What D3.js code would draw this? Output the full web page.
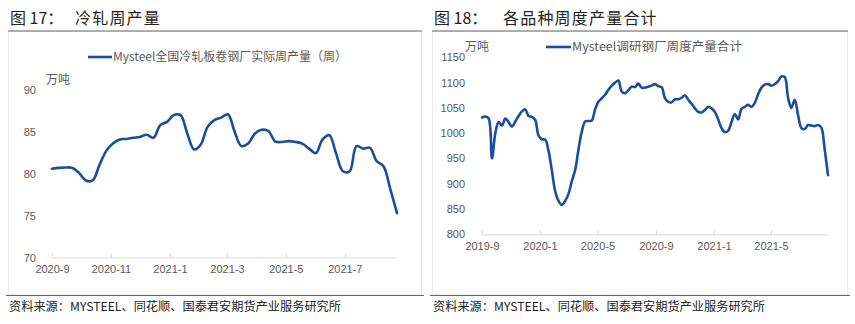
<!DOCTYPE html>
<html><head><meta charset="utf-8">
<script src="https://cdn.jsdelivr.net/npm/d3@7"></script>
<style>
html,body{margin:0;padding:0;background:#fff;}
svg{display:block;}
text{font-family:"Liberation Sans","Noto Sans CJK SC",sans-serif;}
.cjk{font-family:"Noto Sans CJK SC","Liberation Sans",sans-serif;}
</style></head>
<body>
<svg id="c" width="855" height="324"></svg>
<script>
// ---------- DATA ----------
const leftTitleNo = "图 17：";
const leftTitle = "冷轧周产量";
const leftSeriesName = "Mysteel全国冷轧板卷钢厂实际周产量（周）";
const leftUnit = "万吨";
const leftStart = "2020-09-03";
const leftValues = [80.6,80.7,80.75,80.7,80.1,79.2,79.2,81.0,82.7,83.6,84.1,84.15,84.3,84.4,84.65,84.3,
  85.8,86.2,87.0,87.0,84.8,82.9,83.5,85.6,86.4,86.7,87.1,85.0,83.3,83.6,84.8,85.25,85.1,83.85,83.8,83.9,
  83.8,83.6,83.0,82.45,84.1,84.6,82.4,80.3,80.3,83.3,83.0,83.1,81.5,80.9,78.2,75.3];
const leftYTicks = [70,75,80,85,90];
const leftXTickLabels = ["2020-9","2020-11","2021-1","2021-3","2021-5","2021-7"];

const rightTitleNo = "图 18：";
const rightTitle = "各品种周度产量合计";
const rightSeriesName = "Mysteel调研钢厂周度产量合计";
const rightUnit = "万吨";
const rightStart = "2019-09-05";
const rightValues = [1031,1033,1029,950,1000,1022,1015,1029,1022,1013,1023,1034,1043,1047,1034,1032,1026,995,988,987,
  965,926,885,866,858,866,880,905,927,968,1003,1023,1024,1025,1047,1062,1069,1076,1086,1094,
  1100,1104,1082,1079,1085,1092,1091,1098,1090,1090,1092,1094,1097,1093,1091,1069,1062,1061,1067,1067,
  1070,1075,1066,1058,1049,1042,1041,1046,1052,1049,1042,1027,1010,1002,1005,1022,1038,1027,1048,1052,
  1056,1052,1060,1077,1090,1096,1097,1094,1097,1103,1112,1111,1070,1050,1066,1036,1010,1008,1016,1015,
  1014,1016,1011,968,917];
const rightYTicks = [800,850,900,950,1000,1050,1100,1150];
const rightXTickLabels = ["2019-9","2020-1","2020-5","2020-9","2021-1","2021-5"];

const sourceText = "资料来源：MYSTEEL、同花顺、国泰君安期货产业服务研究所";

// ---------- DRAW ----------
const svg = d3.select("#c");
const parse = d3.timeParse("%Y-%m-%d");
const lineColor = "#1D4C9C";
const textColor = "#595959";

function tickDate(label, day){
  const [y,m] = label.split("-").map(Number);
  return new Date(y, m-1, day);
}

function panel(o){
  const start = parse(o.start);
  const dates = o.values.map((v,i)=>d3.timeDay.offset(start, 7*i));
  const data = o.values.map((v,i)=>({d:dates[i], v}));
  const x = d3.scaleTime().domain([dates[0], dates[dates.length-1]]).range(o.xr);
  const y = d3.scaleLinear().domain([o.yTicks[0], o.yTicks[o.yTicks.length-1]]).range(o.yr);

  // frame
  svg.append("rect").attr("x",o.fx0+0.5).attr("y",31.5).attr("width",o.fx1-o.fx0).attr("height",263)
    .attr("fill","none").attr("stroke","#ececec");
  // title
  const t = svg.append("text").attr("x",o.fx0+2).attr("y",24).attr("fill","#222").style("font-size","16px");
  t.append("tspan").attr("class","cjk").text(o.titleNo);
  t.append("tspan").attr("class","cjk").attr("x",o.titleX).style("letter-spacing","1.2px").text(o.title);
  svg.append("line").attr("x1",o.fx0).attr("x2",o.fx1+1).attr("y1",31).attr("y2",31)
    .attr("stroke","#666").attr("stroke-width",1.2);
  // footer
  svg.append("line").attr("x1",o.fx0-2).attr("x2",o.fx1+3).attr("y1",295.5).attr("y2",295.5)
    .attr("stroke","#666").attr("stroke-width",1.2);
  svg.append("text").attr("class","cjk").attr("x",o.fx0+1).attr("y",311).attr("fill","#222")
    .style("font-size","12px").attr("textLength",332).attr("lengthAdjust","spacingAndGlyphs").text(sourceText);

  // y axis
  const ya = svg.append("g").attr("transform",`translate(${o.yLabelX},0)`)
    .call(d3.axisLeft(y).tickValues(o.yTicks).tickSize(0).tickPadding(0).tickFormat(d3.format("d")));
  ya.select(".domain").remove();
  ya.selectAll("text").attr("fill",textColor).style("font-size","11px").style("font-family","Liberation Sans");

  // x axis
  const tv = o.xLabels.map(l=>tickDate(l, start.getDate()));
  const xa = svg.append("g").attr("transform",`translate(0,${o.yr[0]})`)
    .call(d3.axisBottom(x).tickValues(tv).tickSizeInner(-4).tickSizeOuter(0).tickPadding(8)
      .tickFormat((d,i)=>o.xLabels[i]));
  xa.select(".domain").attr("stroke","#d9d9d9");
  xa.selectAll(".tick line").attr("stroke","#d9d9d9");
  xa.selectAll("text").attr("fill",textColor).style("font-size","11px").style("font-family","Liberation Sans");

  // unit
  svg.append("text").attr("class","cjk").attr("x",o.unitX).attr("y",o.unitY).attr("fill",textColor)
    .style("font-size","12px").text(o.unit);

  // legend
  svg.append("line").attr("x1",o.legX0).attr("x2",o.legX1).attr("y1",o.legY).attr("y2",o.legY)
    .attr("stroke",lineColor).attr("stroke-width",2.6);
  svg.append("text").attr("class","cjk").attr("x",o.legX1+1).attr("y",o.legY+4).attr("fill",textColor)
    .style("font-size","12px").attr("textLength",o.legLen).attr("lengthAdjust","spacingAndGlyphs").text(o.name);

  // line
  svg.append("path").datum(data)
    .attr("d", d3.line().x(d=>x(d.d)).y(d=>y(d.v)).curve(d3.curveCatmullRom.alpha(0.5)))
    .attr("fill","none").attr("stroke",lineColor).attr("stroke-width",2.6)
    .attr("stroke-linejoin","round").attr("stroke-linecap","round");
}

panel({start:leftStart, values:leftValues, yTicks:leftYTicks, xLabels:leftXTickLabels,
  xr:[52,397], yr:[257.5,90], fx0:8, fx1:421, titleNo:leftTitleNo, title:leftTitle, titleX:75,
  yLabelX:36, unit:leftUnit, unitX:46, unitY:84, name:leftSeriesName,
  legX0:88, legX1:112, legY:57, legLen:234});

panel({start:rightStart, values:rightValues, yTicks:rightYTicks, xLabels:rightXTickLabels,
  xr:[482,828], yr:[234.3,57.3], fx0:432, fx1:847, titleNo:rightTitleNo, title:rightTitle, titleX:503,
  yLabelX:465, unit:rightUnit, unitX:465, unitY:51, name:rightSeriesName,
  legX0:546, legX1:571, legY:47, legLen:170});
</script>
</body></html>
